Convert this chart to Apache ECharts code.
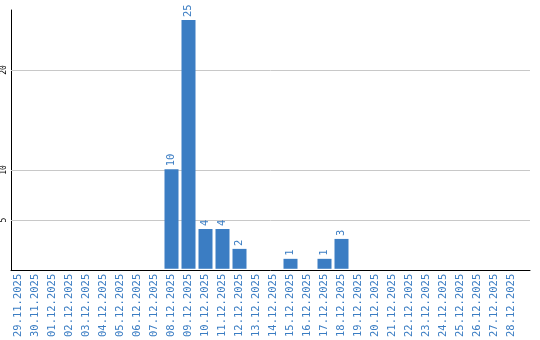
<!DOCTYPE html>
<html><head><meta charset="utf-8">
<script src="https://cdn.jsdelivr.net/npm/echarts@6/dist/echarts.min.js"></script>
<style>html,body{margin:0;padding:0;background:#fff}#c{width:540px;height:340px}</style>
</head><body><div id="c"></div>
<script>
var categories = ["29.11.2025","30.11.2025","01.12.2025","02.12.2025","03.12.2025","04.12.2025","05.12.2025","06.12.2025","07.12.2025","08.12.2025","09.12.2025","10.12.2025","11.12.2025","12.12.2025","13.12.2025","14.12.2025","15.12.2025","16.12.2025","17.12.2025","18.12.2025","19.12.2025","20.12.2025","21.12.2025","22.12.2025","23.12.2025","24.12.2025","25.12.2025","26.12.2025","27.12.2025","28.12.2025"];
var values = [0,0,0,0,0,0,0,0,0,10,25,4,4,2,0,0,1,0,1,3,0,0,0,0,0,0,0,0,0,0];
var yTickLabels = [5,10,20];
var yMax = 26;

var blue = '#3b7dc3';
var font = 'DejaVu Sans Mono';
var chart = echarts.init(document.getElementById('c'), null, {renderer:'canvas'});
chart.setOption({
  animation:false,
  grid:[
    {left:10,right:10,top:10,bottom:70},
    {left:10,right:20,top:10,bottom:70}
  ],
  xAxis:[
    {gridIndex:0,type:'value',min:0,max:1,axisLine:{show:true,onZero:false,lineStyle:{color:'#000',width:1}},axisTick:{show:false},axisLabel:{show:false},splitLine:{show:false}},
    {gridIndex:1,type:'category',data:categories,axisLine:{show:false},axisTick:{show:false},splitLine:{show:false},
     axisLabel:{interval:0,rotate:90,margin:5,color:blue,fontFamily:font,fontSize:10.5}}
  ],
  yAxis:[
    {gridIndex:0,type:'value',min:0,max:yMax,interval:5,axisLine:{show:true,lineStyle:{color:'#000',width:1}},axisTick:{show:false},splitLine:{show:false},
     axisLabel:{rotate:90,margin:3,color:'#000',fontFamily:font,fontSize:8,showMaxLabel:false,
       formatter:function(v){return yTickLabels.indexOf(v)>=0?String(v):'';}}},
    {gridIndex:1,type:'value',min:0,max:yMax,show:false}
  ],
  series:[
    {type:'line',xAxisIndex:0,yAxisIndex:0,data:[],silent:true,
     markLine:{silent:true,symbol:'none',label:{show:false},lineStyle:{color:'#c8c8c8',type:'solid',width:1},
       data:yTickLabels.map(function(v){return {yAxis:v};})}},
    {type:'bar',xAxisIndex:1,yAxisIndex:1,data:values,barWidth:14,z:5,
     itemStyle:{color:blue},
     label:{show:true,position:'top',rotate:90,align:'left',verticalAlign:'middle',distance:3,color:blue,fontFamily:font,fontSize:10.5,
       formatter:function(p){return p.value?String(p.value):'';}}}
  ]
});
</script></body></html>
